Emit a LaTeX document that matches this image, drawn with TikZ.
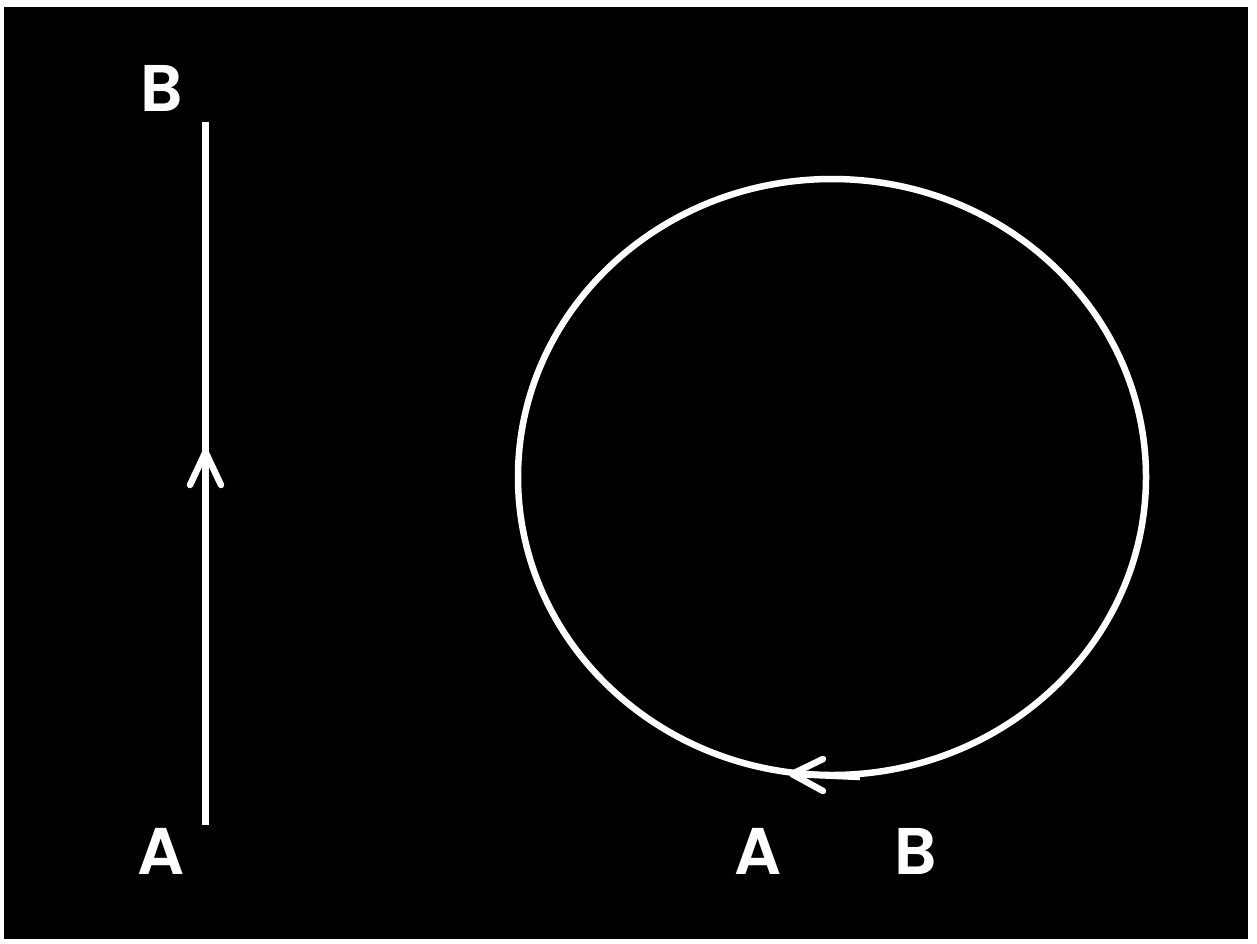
\documentclass[tikz,border=0pt]{standalone}
\usepackage{fontspec}
\setmainfont{Poppins}[BoldFont={* SemiBold}]
\begin{document}
\begin{tikzpicture}[x=1pt,y=-1pt,
  lbl/.style={text=white,font=\fontsize{66}{66}\selectfont\bfseries,inner sep=0pt},
  wire/.style={draw=white,line width=7.5pt},
  tip/.style={draw=white,line width=6.5pt,line cap=round,line join=round}]
\useasboundingbox (0,0) rectangle (1257,943);
\fill[white] (0,0) rectangle (1257,943);
\fill[black] (4,7) rectangle (1248,939);
% left line
\coordinate (la) at (205.5,825);
\coordinate (lb) at (205.5,122);
\coordinate (lt) at (205.5,452);
\draw[wire] (la) -- (lb);
\draw[tip] (190,485) -- (lt) -- (221,485);
\node[lbl] (B1) at (162,88) {B};
\node[lbl] (A1) at (161,851) {A};
% ellipse
\coordinate (c) at (832,477);
\draw[draw=white,line width=6.5pt] (c) ellipse [x radius=314, y radius=298];
\coordinate (et) at (792,774);
\coordinate (ee) at (860,777);
\draw[draw=white,line width=6.5pt] (et) -- (ee);
\draw[tip] (823,759) -- (et) -- (823,791);
\node[lbl] (A2) at (758,851) {A};
\node[lbl] (B2) at (916,851) {B};
\end{tikzpicture}
\end{document}
